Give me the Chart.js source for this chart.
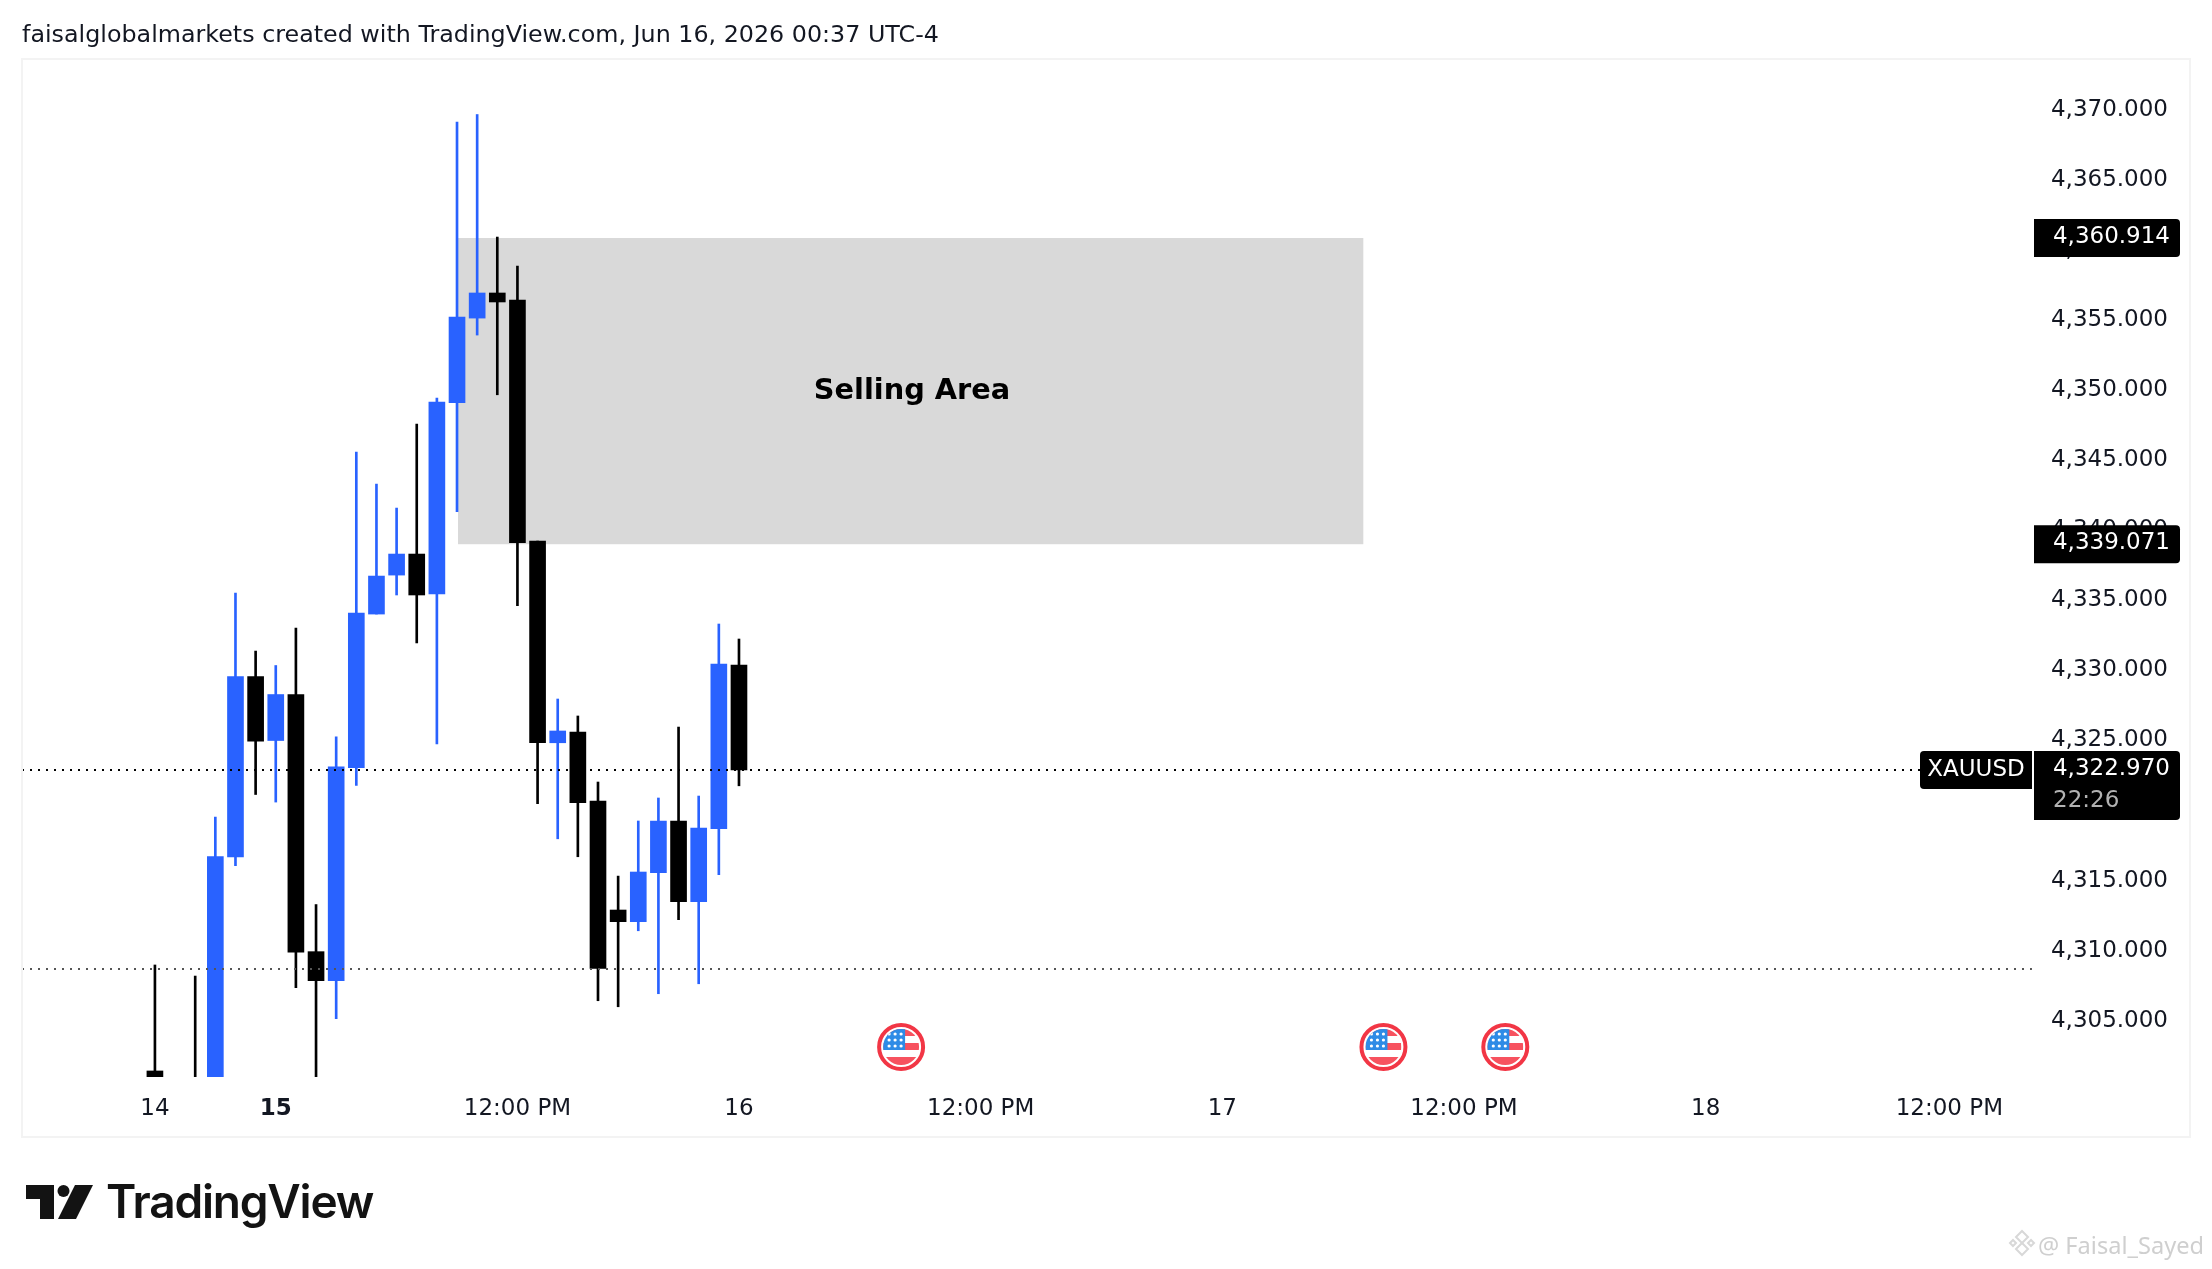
<!DOCTYPE html>
<html>
<head>
<meta charset="utf-8">
<title>XAUUSD</title>
<script src="https://cdn.jsdelivr.net/npm/chart.js@4/dist/chart.umd.js"></script>
<style>
  html, body { margin: 0; padding: 0; background: #fff; width: 2212px; height: 1269px; overflow: hidden; }
  canvas { position: absolute; left: 0; top: 0; }
  .head { position: absolute; left: 22px; top: 20px; font: 23.8px "DejaVu Sans"; color: #131722; white-space: nowrap; }
  .logo { position: absolute; left: 26px; top: 1185px; }
  .logo-text { position: absolute; left: 106px; top: 1173px; font: 600 46px Inter; color: #131313; letter-spacing: -1.2px; white-space: nowrap; }
  .mark { position: absolute; left: 2038px; top: 1229px; font: 23.6px "Noto Sans"; color: #cfcfcf; white-space: nowrap; }
  .mark-icon { position: absolute; left: 2008px; top: 1229px; }
</style>
</head>
<body>
<canvas id="chart" width="2212" height="1269"></canvas>
<div class="head">faisalglobalmarkets created with TradingView.com, Jun 16, 2026 00:37 UTC-4</div>
<svg class="logo" width="67" height="34" viewBox="0 0 67 34">
  <path d="M0 0H28V34H14V14H0Z" fill="#131313"/>
  <circle cx="37.500" cy="6" r="6" fill="#131313"/>
  <path d="M49 0H67L50 34H32Z" fill="#131313"/>
</svg>
<div class="logo-text">TradingView</div>
<svg class="mark-icon" width="28" height="28" viewBox="0 0 28 28" fill="none" stroke="#d8d8d8" stroke-width="2">
  <path d="M14 2L20 8L14 14L8 8Z"/><path d="M14 14L20 20L14 26L8 20Z"/><path d="M5 11L8 14L5 17L2 14Z"/><path d="M23 11L26 14L23 17L20 14Z"/>
</svg>
<div class="mark">@ Faisal_Sayed</div>

<script>
// one-hour candles, index 0 = Sunday 14 18:00. index 1 sits below the visible range
const candleIdx = [0,2,3,4,5,6,7,8,9,10,11,12,13,14,15,16,17,18,19,20,21,22,23,24,25,26,27,28,29];
const opens  = [4301.50,4300.50,4300.00,4316.76,4329.63,4325.07,4328.35,4310.01,4307.94,4323.14,4334.09,4336.87,4338.37,4335.52,4349.16,4355.20,4356.99,4356.49,4339.30,4324.91,4325.67,4320.75,4312.98,4312.15,4315.64,4319.33,4313.57,4318.78,4330.45];
const closes = [4300.90,4300.00,4316.80,4329.63,4325.03,4328.35,4309.98,4307.94,4323.19,4334.16,4336.80,4338.37,4335.45,4349.21,4355.28,4356.99,4356.35,4339.18,4324.91,4325.75,4320.63,4308.82,4312.15,4315.69,4319.33,4313.57,4318.83,4330.53,4322.97];
const highs  = [4309.06,4308.27,4319.61,4335.59,4331.45,4330.42,4333.09,4313.37,4325.34,4345.65,4343.36,4341.65,4347.64,4349.50,4369.18,4369.72,4360.98,4358.91,4339.30,4328.03,4326.82,4322.11,4315.40,4319.33,4320.97,4326.03,4321.11,4333.38,4332.31];
const lows   = [4300.90,4299.00,4299.00,4316.15,4321.22,4320.68,4307.44,4300.50,4305.23,4321.86,4334.09,4335.45,4332.03,4324.82,4341.39,4353.99,4349.73,4334.68,4320.56,4318.06,4316.78,4306.51,4306.08,4311.50,4307.01,4312.29,4307.72,4315.50,4321.84];

const xTicks  = [0,6,18,29,41,53,65,77,89.1];
const xLabels = ['14','15','12:00 PM','16','12:00 PM','17','12:00 PM','18','12:00 PM'];
const boldTick = 6;
const eventIdx = [37.05,61,67.05];

const zoneTop = 4360.914, zoneBottom = 4339.071;
const zoneFrom = 15.05, zoneTo = 60;
const zoneLabel = 'Selling Area';
const lastPrice = 4322.970, lowerLevel = 4308.77;
const countdown = '22:26', symbol = 'XAUUSD';

const xMin = -6.6, xMax = 93.6, levelEnd = 93.2, yMin = 4301.07, yMax = 4373.68;

const BLUE = '#2962ff', BLACK = '#000000', FONT = '"DejaVu Sans"';
const colorOf = i => closes[i] >= opens[i] ? BLUE : BLACK;
const fmtPrice = v => v.toLocaleString('en-US', { minimumFractionDigits: 3, maximumFractionDigits: 3 });

function tag(ctx, x, y, w, h, radii) {
  ctx.fillStyle = '#000';
  ctx.beginPath();
  ctx.roundRect(x, y, w, h, radii);
  ctx.fill();
}

function usFlag(ctx, cx, cy) {
  ctx.save();
  ctx.beginPath(); ctx.arc(cx, cy, 22, 0, Math.PI * 2);
  ctx.fillStyle = '#fff'; ctx.fill();
  ctx.strokeStyle = '#f23645'; ctx.lineWidth = 4; ctx.stroke();
  ctx.beginPath(); ctx.arc(cx, cy, 18, 0, Math.PI * 2); ctx.clip();
  ctx.fillStyle = '#f7525f';
  ctx.fillRect(cx - 18, cy - 18, 36, 7);
  ctx.fillRect(cx - 18, cy - 4, 36, 7);
  ctx.fillRect(cx - 18, cy + 10, 36, 8);
  ctx.fillStyle = '#2e8be6';
  ctx.fillRect(cx - 18, cy - 18, 22, 21);
  ctx.fillStyle = '#fff';
  for (let r = 0; r < 3; r++) for (let c = 0; c < 3; c++) {
    ctx.beginPath(); ctx.arc(cx - 12 + c * 6, cy - 13 + r * 6, 1.6, 0, Math.PI * 2); ctx.fill();
  }
  ctx.restore();
}

// grey zone goes under the candles
const zonePlugin = {
  id: 'zone',
  beforeDatasetsDraw(chart) {
    const { ctx, scales: { x, y } } = chart;
    ctx.fillStyle = '#d9d9d9';
    ctx.fillRect(x.getPixelForValue(zoneFrom), y.getPixelForValue(zoneTop),
      x.getPixelForValue(zoneTo) - x.getPixelForValue(zoneFrom),
      y.getPixelForValue(zoneBottom) - y.getPixelForValue(zoneTop));
    ctx.fillStyle = BLACK;
    ctx.font = 'bold 28.800px ' + FONT;
    ctx.textAlign = 'center';
    ctx.textBaseline = 'middle';
    ctx.fillText(zoneLabel, 912, 392);
  }
};

const overlayPlugin = {
  id: 'overlay',
  afterDraw(chart) {
    const { ctx, scales: { x, y } } = chart;
    ctx.save();
    // frame
    ctx.strokeStyle = '#f3f3f3'; ctx.lineWidth = 2;
    ctx.strokeRect(22, 59, 2168, 1078);
    eventIdx.forEach(i => usFlag(ctx, x.getPixelForValue(i), 1047));
    // price tags
    ctx.font = '23px ' + FONT;
    ctx.textBaseline = 'middle';
    [zoneTop, zoneBottom].forEach(p => {
      const py = y.getPixelForValue(p);
      tag(ctx, 2034, py - 19, 146, 38, [0, 4, 4, 0]);
      ctx.fillStyle = '#fff'; ctx.textAlign = 'right';
      ctx.fillText(fmtPrice(p), 2170, py - 1);
    });
    const py = y.getPixelForValue(lastPrice);
    tag(ctx, 2034, py - 19, 146, 69, [0, 4, 4, 0]);
    ctx.fillStyle = '#fff'; ctx.textAlign = 'right';
    ctx.fillText(fmtPrice(lastPrice), 2170, py - 1);
    ctx.fillStyle = '#b2b2b2'; ctx.textAlign = 'left';
    ctx.fillText(countdown, 2053, py + 31);
    tag(ctx, 1920, py - 19, 112, 38, [4, 0, 0, 4]);
    ctx.fillStyle = '#fff'; ctx.textAlign = 'center';
    ctx.fillText(symbol, 1976, py);
    ctx.restore();
  }
};

new Chart(document.getElementById('chart'), {
  type: 'bar',
  data: {
    datasets: [
      { type: 'line', data: [{ x: xMin, y: lastPrice }, { x: levelEnd, y: lastPrice }], borderColor: '#000', borderWidth: 2, borderDash: [2, 6], pointRadius: 0, order: 0 },
      { type: 'line', data: [{ x: xMin, y: lowerLevel }, { x: levelEnd, y: lowerLevel }], borderColor: '#555', borderWidth: 2, borderDash: [2, 6], pointRadius: 0, order: 0 },
      { data: candleIdx.map((c, i) => ({ x: c, y: [Math.min(opens[i], closes[i]), Math.max(opens[i], closes[i])] })),
        backgroundColor: candleIdx.map((c, i) => colorOf(i)), barThickness: 16, grouped: false, order: 1 },
      { data: candleIdx.map((c, i) => ({ x: c, y: [lows[i], highs[i]] })),
        backgroundColor: candleIdx.map((c, i) => colorOf(i)), barThickness: 2, grouped: false, order: 2 }
    ]
  },
  options: {
    responsive: false,
    animation: false,
    devicePixelRatio: 1,
    layout: { padding: { left: 22, top: 59, right: 44, bottom: 0 } },
    plugins: { legend: { display: false }, tooltip: { enabled: false } },
    scales: {
      x: {
        type: 'linear', min: xMin, max: xMax, offset: false,
        grid: { display: false }, border: { display: false },
        // labels never reach the plot edges here, so no side padding
        afterFit: s => { s.height = 192; s.paddingLeft = 0; s.paddingRight = 0; },
        afterBuildTicks: s => { s.ticks = xTicks.map(v => ({ value: v })); },
        ticks: {
          autoSkip: false, maxRotation: 0, padding: 10, color: '#131722',
          font: c => ({ family: FONT, size: 23, weight: c.tick && c.tick.value === boldTick ? 'bold' : 'normal' }),
          callback: v => xLabels[xTicks.indexOf(v)]
        }
      },
      y: {
        position: 'right', min: yMin, max: yMax,
        grid: { display: false }, border: { display: false },
        afterFit: s => { s.width = 128; s.paddingTop = 0; s.paddingBottom = 0; },
        afterBuildTicks: s => { s.ticks = s.ticks.filter(t => t.value % 5 === 0); },
        ticks: {
          stepSize: 5, crossAlign: 'far', color: '#131722', labelOffset: -1,
          font: { family: FONT, size: 23 },
          callback: v => fmtPrice(v)
        }
      }
    }
  },
  plugins: [zonePlugin, overlayPlugin]
});
</script>
</body>
</html>
